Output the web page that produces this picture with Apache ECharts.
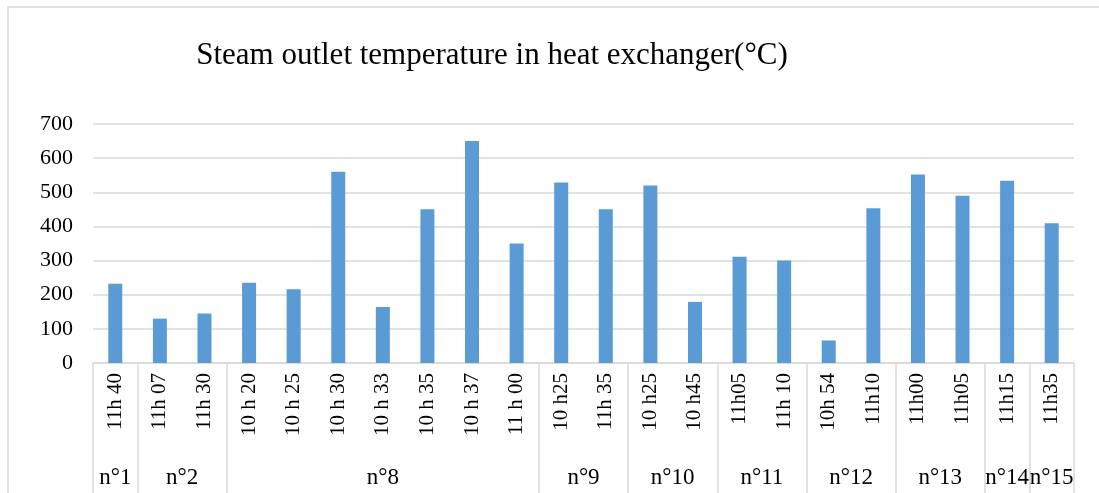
<!DOCTYPE html>
<html>
<head>
<meta charset="utf-8">
<script src="https://cdn.jsdelivr.net/npm/echarts@6/dist/echarts.min.js"></script>
<style>
html,body{margin:0;padding:0;background:#fff;}
#chart{width:1099px;height:493px;}
</style>
</head>
<body>
<div id="chart"></div>
<script>
// Data
const categories = ['11h 40','11h 07','11h 30','10 h 20','10 h 25','10 h 30','10 h 33','10 h 35','10 h 37','11 h 00','10 h25','11h 35','10 h25','10 h45','11h05','11h 10','10h 54','11h10','11h00','11h05','11h15','11h35'];
const values = [232, 130, 145, 235, 216, 560, 164, 450, 650, 350, 529, 450, 520, 179, 311, 300, 66, 453, 552, 490, 534, 409];
const groupNames = ['n°1','n°2','n°8','n°9','n°10','n°11','n°12','n°13','n°14','n°15'];
const groupSizes = [1, 2, 7, 2, 2, 2, 2, 2, 1, 1];
const yTicks = [0, 100, 200, 300, 400, 500, 600, 700];
const titleText = 'Steam outlet temperature in heat exchanger(°C)';

// group boundaries & centres (in category units)
const boundaries = [0];
const centres = [];
const centreLabel = {};
groupSizes.forEach((s, i) => {
  const start = boundaries[boundaries.length - 1];
  const c = start + s / 2;
  centres.push(c);
  centreLabel[c] = groupNames[i];
  boundaries.push(start + s);
});
const total = boundaries[boundaries.length - 1];

const FONT = '"Liberation Serif", "Times New Roman", serif';
const GRID_COLOR = '#d9d9d9';

const chart = echarts.init(document.getElementById('chart'), null, {renderer: 'canvas'});
chart.setOption({
  animation: false,
  backgroundColor: '#fff',
  title: {
    text: titleText,
    left: 487,
    textAlign: 'center',
    top: 35,
    textStyle: {fontFamily: FONT, fontSize: 31, fontWeight: 'normal', color: '#000'}
  },
  graphic: [{
    type: 'rect',
    shape: {x: 8, y: 7, width: 1200, height: 600},
    style: {fill: 'none', stroke: GRID_COLOR, lineWidth: 1.5},
    silent: true,
    z: -10
  }],
  grid: {left: 93, right: 25, top: 124, bottom: 130},
  xAxis: [{
    type: 'category',
    data: categories,
    boundaryGap: true,
    position: 'bottom',
    axisLine: {show: true, lineStyle: {color: GRID_COLOR, width: 1.5}},
    axisTick: {show: false},
    axisLabel: {
      rotate: 90,
      interval: 0,
      margin: 10,
      fontFamily: FONT,
      fontSize: 21,
      color: '#000'
    },
    splitLine: {show: false}
  }, {
    type: 'value',
    min: 0,
    max: total,
    position: 'bottom',
    axisLine: {show: false},
    axisTick: {
      show: true,
      customValues: boundaries,
      length: 135,
      lineStyle: {color: GRID_COLOR, width: 1.5}
    },
    axisLabel: {
      show: true,
      customValues: centres,
      margin: 103,
      formatter: v => centreLabel[v] || '',
      fontFamily: FONT,
      fontSize: 23,
      color: '#000'
    },
    splitLine: {show: false}
  }],
  yAxis: {
    type: 'value',
    min: yTicks[0],
    max: yTicks[yTicks.length - 1],
    interval: 100,
    axisLine: {show: false},
    axisTick: {show: false},
    axisLabel: {margin: 20, fontFamily: FONT, fontSize: 22, color: '#000'},
    splitLine: {lineStyle: {color: GRID_COLOR, width: 1.5}}
  },
  series: [{
    type: 'bar',
    xAxisIndex: 0,
    data: values,
    barWidth: 14,
    itemStyle: {color: '#5B9BD5'}
  }]
});
</script>
</body>
</html>
